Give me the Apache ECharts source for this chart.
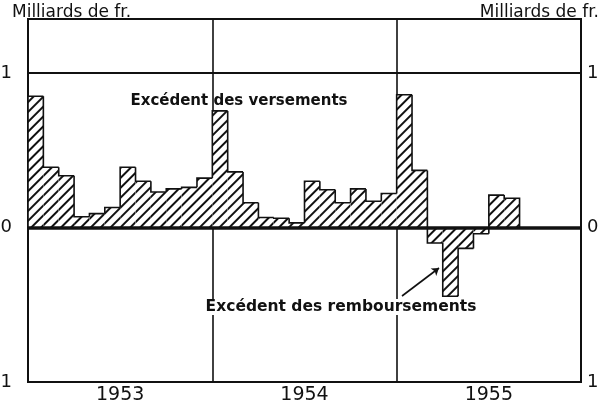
<!DOCTYPE html>
<html>
<head>
<meta charset="utf-8">
<title>Excédent des versements</title>
<script src="https://cdn.jsdelivr.net/npm/echarts@6/dist/echarts.min.js"></script>
<style>
  html, body { margin: 0; padding: 0; background: #fff; }
  #main { width: 605px; height: 408px; }
</style>
</head>
<body>
<div id="main"></div>
<script>
// monthly values, milliards de fr.
const years = ['1953', '1954', '1955']
const months = ['J', 'F', 'M', 'A', 'M', 'J', 'J', 'A', 'S', 'O', 'N', 'D']
const v1953 = [0.85, 0.39, 0.335, 0.07, 0.09, 0.13, 0.39, 0.30, 0.23, 0.25, 0.26, 0.32]
const v1954 = [0.755, 0.36, 0.16, 0.065, 0.06, 0.03, 0.30, 0.245, 0.16, 0.25, 0.17, 0.22]
const v1955 = [0.86, 0.37, -0.10, -0.445, -0.135, -0.04, 0.21, 0.19, null, null, null, null]
const yTicks = [-1, 0, 1]

const font = 'DejaVu Sans'
const ink = '#111'

let cats = []
years.forEach(y => months.forEach(m => cats.push(m + ' ' + y)))
const values = v1953.concat(v1954, v1955)

// outline data: [index, value, previous value, is last]
const outline = []
values.forEach((v, i) => {
  if (v == null) return
  const prev = i > 0 && values[i - 1] != null ? values[i - 1] : 0
  const last = i === values.length - 1 || values[i + 1] == null
  outline.push([i, v, prev, last ? 1 : 0])
})

const chart = echarts.init(document.getElementById('main'))

// step outline round the bars, no lines between neighbours
function renderOutline(params, api) {
  const i = api.value(0), v = api.value(1), p = api.value(2), last = api.value(3)
  const w = api.size([1, 0])[0]
  const c = api.coord([i, v])
  const left = c[0] - w / 2, right = c[0] + w / 2
  const yp = api.coord([i, p])[1]
  const y0 = api.coord([i, 0])[1]
  const pts = [[left, yp], [left, c[1]], [right, c[1]]]
  if (last) pts.push([right, y0])
  return {
    type: 'polyline',
    shape: { points: pts },
    style: { stroke: ink, lineWidth: 1.6, fill: null }
  }
}

const labelFmt = v => yTicks.indexOf(v) >= 0 ? String(Math.abs(v)) : ''

const option = {
  animation: false,
  backgroundColor: '#fff',
  textStyle: { fontFamily: font, color: ink },
  grid: {
    left: 28, right: 24, top: 19, bottom: 26,
    outerBoundsMode: 'none',
    show: true, borderColor: ink, borderWidth: 2
  },
  xAxis: [
    {
      type: 'category',
      data: cats,
      boundaryGap: true,
      axisLine: { show: false },
      axisTick: { show: false },
      axisLabel: { show: false },
      splitLine: { show: false }
    },
    {
      type: 'category',
      data: years,
      position: 'bottom',
      boundaryGap: true,
      axisLine: { show: false },
      axisTick: { show: false },
      axisLabel: { show: true, margin: 4, fontSize: 19, color: ink, fontFamily: font },
      splitLine: { show: true, interval: 0, lineStyle: { color: ink, width: 1.6 } }
    }
  ],
  yAxis: [
    {
      type: 'value',
      min: -1,
      max: 1.35,
      interval: 1,
      axisLine: { show: false },
      axisTick: { show: false },
      axisLabel: { margin: 16, fontSize: 18, color: ink, fontFamily: font, formatter: labelFmt },
      splitLine: { show: true, lineStyle: { color: ink, width: 2 } }
    },
    {
      type: 'value',
      position: 'right',
      min: -1,
      max: 1.35,
      interval: 1,
      axisLine: { show: false },
      axisTick: { show: false },
      axisLabel: { margin: 6, fontSize: 18, color: ink, fontFamily: font, formatter: labelFmt },
      splitLine: { show: false }
    }
  ],
  series: [
    {
      type: 'bar',
      xAxisIndex: 0,
      yAxisIndex: 0,
      data: values,
      barWidth: '100%',
      barGap: '0%',
      itemStyle: {
        color: '#fff',
        borderWidth: 0,
        decal: {
          symbol: 'rect',
          symbolSize: 1,
          dashArrayX: [1, 0],
          dashArrayY: [1.3, 4.5],
          rotation: -Math.PI / 4,
          color: ink,
          backgroundColor: '#fff'
        }
      },
      markLine: {
        silent: true,
        symbol: ['none', 'arrow'],
        symbolSize: 7,
        label: { show: false },
        lineStyle: { color: ink, width: 1.6, type: 'solid' },
        data: [[{ x: 402, y: 296 }, { x: 439, y: 268 }]]
      }
    },
    {
      type: 'custom',
      xAxisIndex: 0,
      yAxisIndex: 0,
      data: outline,
      renderItem: renderOutline,
      z: 5,
      markLine: {
        silent: true,
        symbol: 'none',
        label: { show: false },
        lineStyle: { color: ink, width: 3.5, type: 'solid' },
        data: [{ yAxis: 0 }]
      }
    }
  ],
  graphic: [
    { type: 'text', left: 12, top: 4, style: { text: 'Milliards de fr.', font: '17px "DejaVu Sans"', fill: ink } },
    { type: 'text', right: 6, top: 4, style: { text: 'Milliards de fr.', font: '17px "DejaVu Sans"', fill: ink } },
    { type: 'text', x: 239, y: 101, z: 10, style: { text: 'Excédent des versements', font: 'bold 15px "DejaVu Sans"', fill: ink, align: 'center', verticalAlign: 'middle' } },
    { type: 'text', x: 341, y: 307, z: 10, style: { text: 'Excédent des remboursements', font: 'bold 15.5px "DejaVu Sans"', fill: ink, align: 'center', verticalAlign: 'middle', backgroundColor: '#fff' } }
  ]
}

chart.setOption(option)
</script>
</body>
</html>
